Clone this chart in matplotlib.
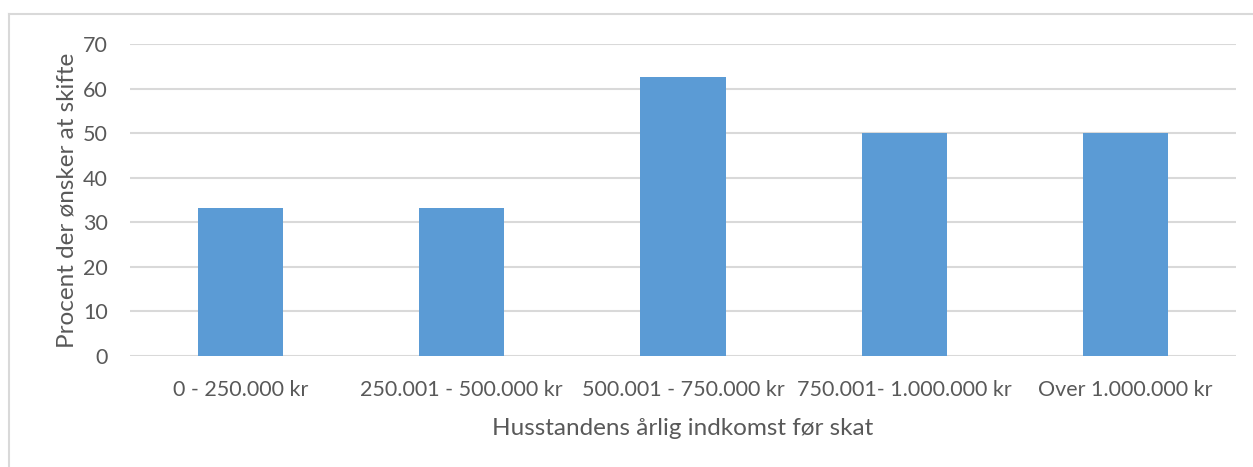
import matplotlib
matplotlib.use("Agg")
import matplotlib.pyplot as plt
from matplotlib.lines import Line2D

categories = ["0 - 250.000 kr", "250.001 - 500.000 kr", "500.001 - 750.000 kr",
              "750.001- 1.000.000 kr", "Over 1.000.000 kr"]
values = [33.3, 33.3, 62.5, 50.0, 50.0]
yticks = [0, 10, 20, 30, 40, 50, 60, 70]

plt.rcParams["font.family"] = ["Lato", "DejaVu Sans"]
text_color = "#595959"
grid_color = "#d9d9d9"
bar_color = "#5b9bd5"

W, H = 1253, 467
fig = plt.figure(figsize=(W / 100, H / 100), dpi=100)

# chart frame (top and left edges)
fig.add_artist(Line2D([9 / W, 9 / W], [0, 1 - 14 / H], transform=fig.transFigure,
                      color=grid_color, lw=1.5))
fig.add_artist(Line2D([9 / W, 1], [1 - 14 / H, 1 - 14 / H], transform=fig.transFigure,
                      color=grid_color, lw=1.5))

left, right = 130 / W, 1236 / W
bottom, top = 1 - 356 / H, 1 - 44 / H
ax = fig.add_axes([left, bottom, right - left, top - bottom])

x = range(len(categories))
ax.bar(x, values, width=0.385, color=bar_color, zorder=3)
ax.set_xlim(-0.5, len(categories) - 0.5)
ax.set_ylim(0, 70)
ax.set_yticks(yticks)
ax.set_xticks(list(x))
ax.set_xticklabels(categories)

for y in yticks:
    ax.axhline(y, color=grid_color, lw=1.5, zorder=1)

for s in ax.spines.values():
    s.set_visible(False)
ax.tick_params(axis="both", length=0, colors=text_color, labelsize=15.5)
ax.tick_params(axis="x", pad=17)
ax.tick_params(axis="y", pad=16)

ax.set_xlabel("Husstandens årlig indkomst før skat", color=text_color, fontsize=17.5, labelpad=13)
ax.set_ylabel("Procent der ønsker at skifte", color=text_color, fontsize=17.5, labelpad=4)

fig.savefig("out.png", dpi=100)
